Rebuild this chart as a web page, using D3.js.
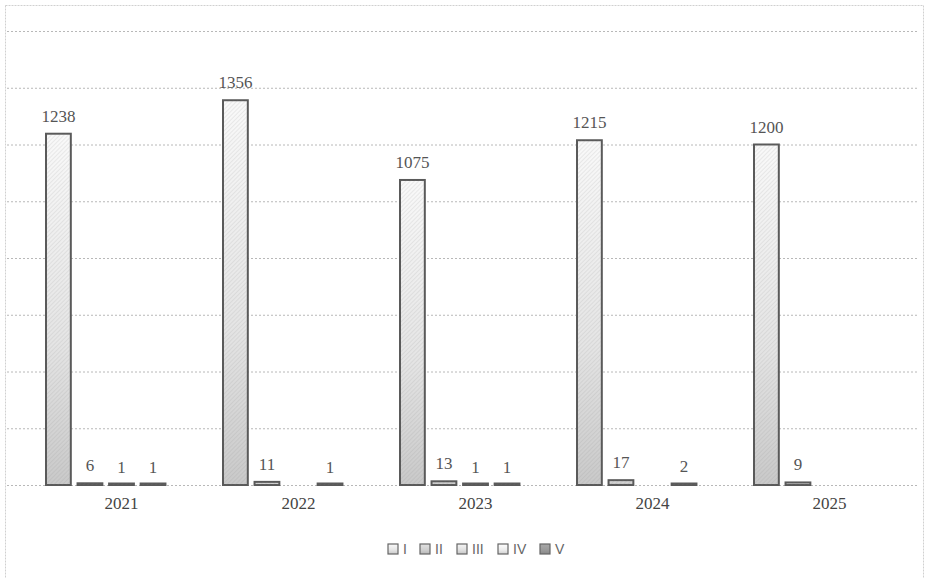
<!DOCTYPE html>
<html>
<head>
<meta charset="utf-8">
<script src="https://cdn.jsdelivr.net/npm/d3@7"></script>
<style>
  html, body { margin: 0; padding: 0; background: #fff; }
  svg { display: block; }
</style>
</head>
<body>
<svg id="chart" width="929" height="578"></svg>
<script>
const years = ["2021", "2022", "2023", "2024", "2025"];
const seriesNames = ["I", "II", "III", "IV", "V"];
const seriesI   = [1238, 1356, 1075, 1215, 1200];
const seriesII  = [6, 11, 13, 17, 9];
const seriesIII = [1, null, 1, null, null];
const seriesIV  = [1, 1, 1, 2, null];
const seriesV   = [null, null, null, null, null];
const yTicks = [0, 200, 400, 600, 800, 1000, 1200, 1400, 1600];

const allSeries = [seriesI, seriesII, seriesIII, seriesIV, seriesV];
const fills = ["#e4e4e4", "#cfcfcf", "#e0e0e0", "#ececec", "#9a9a9a"];

const svg = d3.select("#chart");
const defs = svg.append("defs");

fills.forEach((c, i) => {
  const g = defs.append("linearGradient").attr("id", "grad" + i)
    .attr("x1", 0).attr("y1", 0).attr("x2", 0).attr("y2", 1);
  g.append("stop").attr("offset", "0%").attr("stop-color", d3.color(c).brighter(0.25));
  g.append("stop").attr("offset", "60%").attr("stop-color", c);
  g.append("stop").attr("offset", "100%").attr("stop-color", d3.color(c).darker(0.35));
  const p = defs.append("pattern").attr("id", "hatch" + i)
    .attr("patternUnits", "userSpaceOnUse").attr("width", 3).attr("height", 3)
    .attr("patternTransform", "rotate(45)");
  p.append("line").attr("x1", 0).attr("y1", 0).attr("x2", 0).attr("y2", 3)
    .attr("stroke", "#888").attr("stroke-width", 0.8).attr("opacity", 0.35);
});

// outer frame
svg.append("rect").attr("x", 5.5).attr("y", 5.5).attr("width", 918).attr("height", 580)
  .attr("fill", "none").attr("stroke", "#d0d0d0").attr("stroke-dasharray", "2,1");

const y = d3.scaleLinear().domain([0, 1600]).range([485, 31]);
const x0 = d3.scaleBand().domain(years).range([33, 918]).padding(0);
const groupW = 153;
const x1 = d3.scaleBand().domain(seriesNames)
  .range([(x0.bandwidth() - groupW) / 2, (x0.bandwidth() + groupW) / 2])
  .paddingInner(0.15).paddingOuter(0);

// gridlines
const grid = svg.append("g").attr("class", "grid")
  .attr("transform", "translate(7,0)")
  .call(d3.axisLeft(y).tickValues(yTicks).tickSize(-911).tickFormat(""));
grid.select(".domain").remove();
grid.selectAll("line").attr("stroke", "#b8b8b8").attr("stroke-width", 1)
  .attr("stroke-dasharray", "2,2");

// bars
const groups = svg.append("g").selectAll("g").data(years).join("g")
  .attr("transform", d => `translate(${x0(d)},0)`);

groups.each(function(yr, yi) {
  const g = d3.select(this);
  const data = seriesNames.map((s, si) => ({ s, si, v: allSeries[si][yi] }))
    .filter(d => d.v !== null);
  g.selectAll("rect.bar").data(data).join("rect").attr("class", "bar")
    .attr("x", d => x1(d.s) + 1)
    .attr("width", x1.bandwidth() - 2)
    .attr("y", d => Math.min(y(d.v), y(0) - 1.5))
    .attr("height", d => Math.max(y(0) - y(d.v), 1.5))
    .attr("fill", d => `url(#grad${d.si})`)
    .attr("stroke", "#5a5a5a").attr("stroke-width", 2);
  g.selectAll("rect.hatch").data(data).join("rect").attr("class", "hatch")
    .attr("x", d => x1(d.s) + 2)
    .attr("width", x1.bandwidth() - 4)
    .attr("y", d => Math.min(y(d.v), y(0) - 1.5))
    .attr("height", d => Math.max(y(0) - y(d.v), 1.5))
    .attr("fill", d => `url(#hatch${d.si})`);
  g.selectAll("text.val").data(data).join("text").attr("class", "val")
    .attr("x", d => x1(d.s) + x1.bandwidth() / 2)
    .attr("y", d => y(d.v) - 12)
    .attr("text-anchor", "middle")
    .attr("font-family", "'Liberation Serif', 'Times New Roman', serif")
    .attr("font-size", 17).attr("fill", "#555")
    .text(d => d.v);
});

// x axis labels
const xa = svg.append("g").attr("transform", "translate(0,485)")
  .call(d3.axisBottom(x0).tickSize(0).tickPadding(12));
xa.select(".domain").remove();
xa.selectAll("text").attr("font-family", "'Liberation Serif', 'Times New Roman', serif")
  .attr("font-size", 17).attr("fill", "#444");

// legend
const legendX = [388, 420, 457, 498, 540];
const legend = svg.append("g");
seriesNames.forEach((s, i) => {
  const lg = legend.append("g").attr("transform", `translate(${legendX[i]},544)`);
  lg.append("rect").attr("width", 10).attr("height", 10)
    .attr("fill", `url(#grad${i})`).attr("stroke", "#666").attr("stroke-width", 1.2);
  lg.append("text").attr("x", 15).attr("y", 10)
    .attr("font-family", "'Liberation Sans', Arial, sans-serif")
    .attr("font-size", 14).attr("fill", "#666").text(s);
});
</script>
</body>
</html>
